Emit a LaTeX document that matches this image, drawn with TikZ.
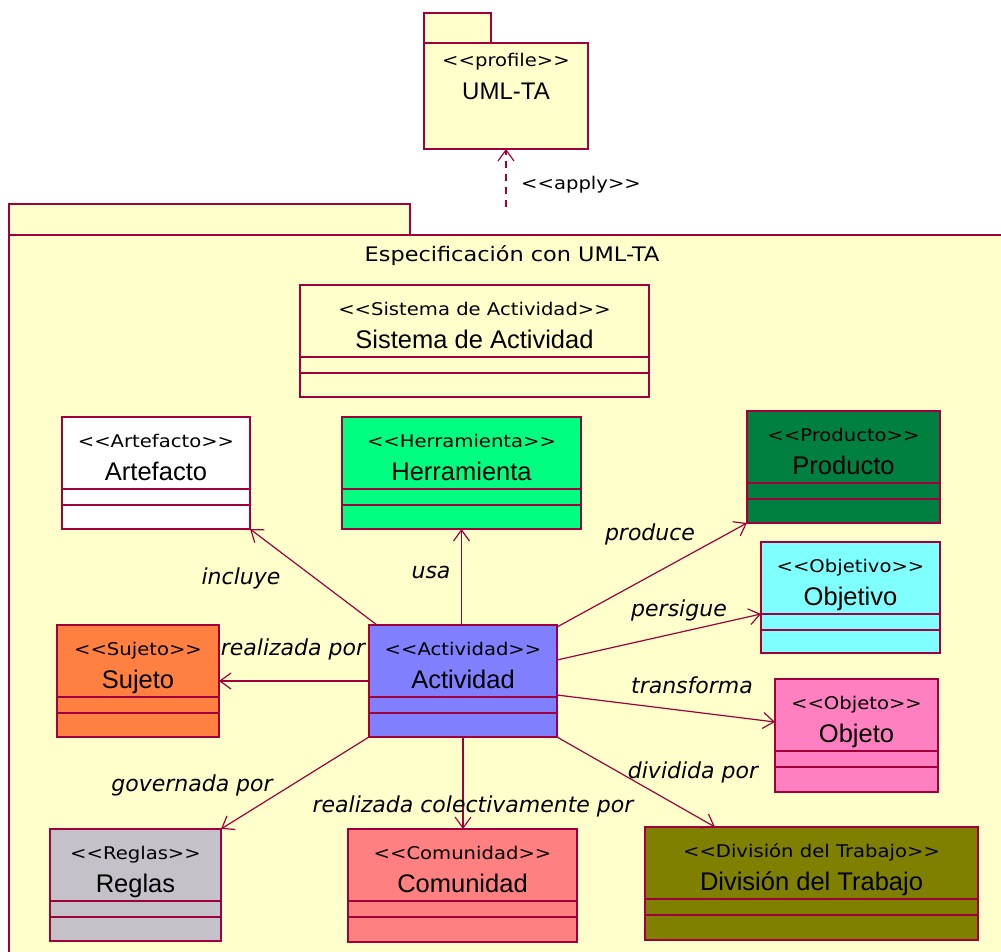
\documentclass[tikz,border=0pt]{standalone}
\usepackage{fontspec}
\setmainfont{DejaVu Sans}
\newfontfamily\namefont{Liberation Sans}
\newfontfamily\widefont[FakeStretch=1.12]{DejaVu Sans}
\usetikzlibrary{arrows.meta,calc}

\definecolor{border}{HTML}{A0003C}
\definecolor{pkgfill}{HTML}{FFFFCC}
\definecolor{herrfill}{HTML}{00FF80}
\definecolor{prodfill}{HTML}{008040}
\definecolor{goalfill}{HTML}{80FFFF}
\definecolor{sujfill}{HTML}{FF8040}
\definecolor{actfill}{HTML}{8080FF}
\definecolor{objfill}{HTML}{FF80C0}
\definecolor{regfill}{HTML}{C4C2C8}
\definecolor{comfill}{HTML}{FF8080}
\definecolor{divfill}{HTML}{808000}

% << and >> kept as two separate characters
\newcommand\stereotype[1]{<\kern0pt<#1>\kern0pt>}

\tikzset{
  pkgbox/.style={draw=border, fill=pkgfill, line width=1.5pt, rectangle, inner sep=0pt, outer sep=0pt},
  classbox/.style={draw=border, line width=1.5pt, rectangle, inner sep=0pt, outer sep=0pt},
  sepline/.style={draw=border, line width=1.5pt},
  stereo/.style={font=\widefont\fontsize{17.5pt}{20pt}\selectfont, inner sep=0pt},
  pkgtitle/.style={font=\widefont\fontsize{20pt}{24pt}\selectfont, inner sep=0pt},
  cname/.style={font=\namefont\fontsize{25.5pt}{30pt}\selectfont, inner sep=0pt},
  rel/.style={draw=border, line width=1.2pt, -{Straight Barb[length=11pt,width=16pt]}},
  applyrel/.style={rel, dash pattern=on 7pt off 6pt},
  rellabel/.style={font=\itshape\fontsize{22pt}{26pt}\selectfont, inner sep=0pt, anchor=base},
}

% class box: name, x, y, width, height, fill, stereotype, class name
\newcommand\umlclass[8]{%
  \node[classbox, fill=#6, minimum width=#4pt, minimum height=#5pt, anchor=north west] (#1) at (#2,#3) {};
  \draw[sepline] ([yshift=-72pt]#1.north west) -- ([yshift=-72pt]#1.north east);
  \draw[sepline] ([yshift=-88pt]#1.north west) -- ([yshift=-88pt]#1.north east);
  \node[stereo, anchor=base] at ([yshift=-30pt]#1.north) {\stereotype{#7}};
  \node[cname, anchor=base] at ([yshift=-63pt]#1.north) {#8};
}

\begin{document}
\begin{tikzpicture}[x=1pt, y=-1pt]
  \useasboundingbox (0,0) rectangle (1001,952);
  \clip (0,0) rectangle (1001,952);

  % profile package
  \node[pkgbox, minimum width=67pt, minimum height=30pt, anchor=north west] (proftab) at (424,13) {};
  \node[pkgbox, minimum width=164pt, minimum height=106pt, anchor=north west] (prof) at (424,43) {};
  \node[stereo, anchor=base] at ([yshift=-24pt]prof.north) {\stereotype{profile}};
  \node[cname, font=\namefont\fontsize{24pt}{28pt}\selectfont, anchor=base] at ([yshift=-57pt]prof.north) {UML-TA};

  % specification package
  \node[pkgbox, minimum width=401pt, minimum height=31pt, anchor=north west] (spectab) at (9,204) {};
  \node[pkgbox, minimum width=1010pt, minimum height=740pt, anchor=north west] (spec) at (9,235) {};
  \node[pkgtitle, anchor=base] (spectitle) at (512,261) {Especificación con UML-TA};

  % apply dependency
  \coordinate (applyfoot) at (506,207);
  \draw[applyrel] (applyfoot) -- (prof.south);
  \node[stereo, anchor=base west] (applylabel) at (521,190) {\stereotype{apply}};

  % classes
  \umlclass{sis}{300}{285}{349}{112}{pkgfill}{Sistema de Actividad}{Sistema de Actividad}
  \umlclass{art}{62}{417}{188}{112}{white}{Artefacto}{Artefacto}
  \umlclass{her}{342}{417}{239}{112}{herrfill}{Herramienta}{Herramienta}
  \umlclass{prod}{747}{411}{193}{112}{prodfill}{Producto}{Producto}
  \umlclass{goal}{761}{542}{179}{111}{goalfill}{Objetivo}{Objetivo}
  \umlclass{suj}{57}{625}{162}{112}{sujfill}{Sujeto}{Sujeto}
  \umlclass{act}{369}{625}{188}{112}{actfill}{Actividad}{Actividad}
  \umlclass{obj}{775}{679}{163}{113}{objfill}{Objeto}{Objeto}
  \umlclass{reg}{50}{829}{171}{112}{regfill}{Reglas}{Reglas}
  \umlclass{com}{348}{829}{229}{113}{comfill}{Comunidad}{Comunidad}
  \umlclass{div}{645}{827}{333}{113}{divfill}{División del Trabajo}{División del Trabajo}

  % associations from the activity
  \draw[rel] ($(act.north west)+(8,0)$) -- (art.south east);
  \draw[rel] (her.south |- act.north) -- (her.south);
  \draw[rel] ($(act.north east)+(0,2)$) -- (prod.south west);
  \draw[rel] ($(act.north east)+(0,35)$) -- ($(goal.north west)+(0,72)$);
  \draw[rel] (act.west) -- (suj.east |- act.west);
  \draw[rel] ($(act.north east)+(0,70)$) -- ($(obj.north west)+(0,43)$);
  \draw[rel] (act.south west) -- (reg.north east);
  \draw[rel] (act.south) -- (act.south |- com.north);
  \draw[rel] (act.south east) -- ($(div.north west)+(70,0)$);

  % association labels
  \node[rellabel] (l-incluye) at (241,584) {incluye};
  \node[rellabel] (l-usa) at (431,578) {usa};
  \node[rellabel] (l-produce) at (650,540) {produce};
  \node[rellabel] (l-persigue) at (679,616) {persigue};
  \node[rellabel] (l-realizada) at (293,655) {realizada por};
  \node[rellabel] (l-transforma) at (692,693) {transforma};
  \node[rellabel] (l-governada) at (192,791) {governada por};
  \node[rellabel] (l-colectiva) at (473,812) {realizada colectivamente por};
  \node[rellabel] (l-dividida) at (693,778) {dividida por};
\end{tikzpicture}
\end{document}
